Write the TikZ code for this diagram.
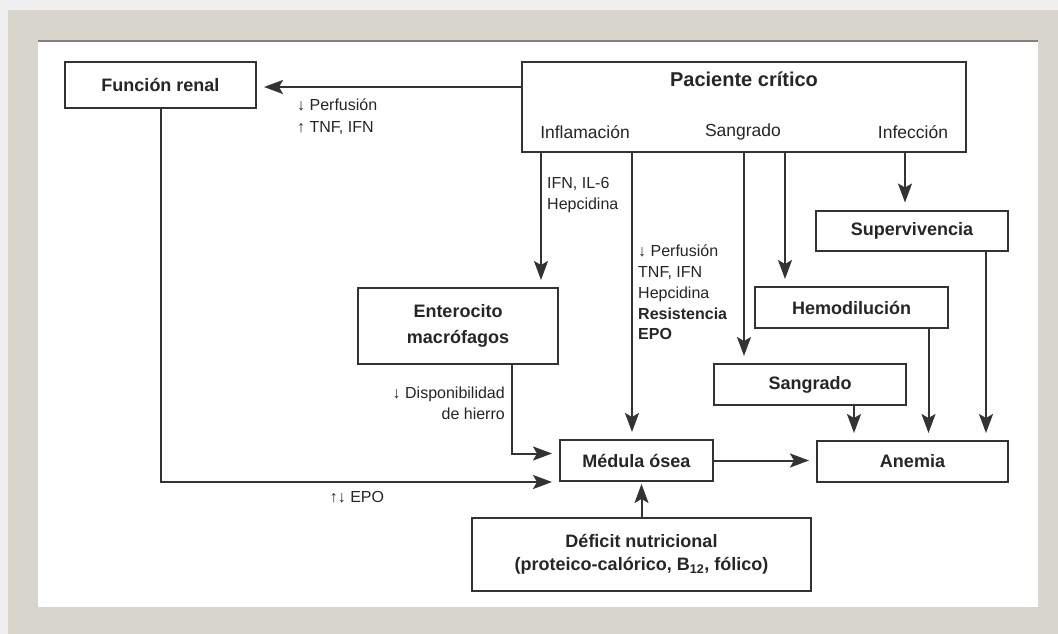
\documentclass[tikz,border=0pt]{standalone}
\usepackage{fontspec}
\setmainfont{Liberation Sans}
\usetikzlibrary{arrows.meta}
\definecolor{marco}{HTML}{D8D5CD}
\definecolor{linea}{HTML}{333333}
\definecolor{texto}{HTML}{262626}

\begin{document}
\begin{tikzpicture}[x=1pt,y=-1pt]
\tikzstyle{caja} = [draw=linea, line width=2pt, inner sep=0, align=center, text=texto, font=\bfseries\fontsize{18}{25}\selectfont]
\tikzstyle{etiq} = [inner sep=0, text=texto, font=\fontsize{16}{21}\selectfont]
\tikzstyle{rotulo} = [inner sep=0, text=texto, font=\fontsize{17.5}{21}\selectfont]
\tikzstyle{flecha} = [draw=linea, line width=2pt, -{Stealth[length=19pt,width=14pt,inset=4pt]}, shorten >=7pt]

% Marco
\useasboundingbox (0,0) rectangle (1058,634);
\fill[gray!12] (0,0) rectangle (1058,634);
\fill[marco] (8,10) rectangle (1058,634);
\fill[white] (38,40) rectangle (1038,607);
\draw[gray, line width=1.5pt] (38,41) -- (1038,41);

% Cajas
\node[caja, minimum width=191pt, minimum height=46pt] (renal) at (160.5,85) {Función renal};
\node[caja, minimum width=444pt, minimum height=90pt] (paciente) at (744,107) {};
\node[etiq, font=\bfseries\fontsize{20}{24}\selectfont] (titulo) at (744,79) {Paciente crítico};
\node[rotulo] (inflam) at (585,132) {Inflamación};
\node[rotulo] (sangr) at (743,132) {Sangrado};
\node[rotulo] (infec) at (913,132) {Infección};

\node[caja, minimum width=192pt, minimum height=40pt] (superv) at (912,230.5) {Supervivencia};
\node[caja, minimum width=193pt, minimum height=41pt] (hemo) at (851.5,307.5) {Hemodilución};
\node[caja, minimum width=192pt, minimum height=41pt] (sangrado) at (810,384.5) {Sangrado};
\node[caja, minimum width=200pt, minimum height=76pt, font=\bfseries\fontsize{18}{26}\selectfont] (entero) at (458,326) {Enterocito\\macrófagos};
\node[caja, minimum width=153pt, minimum height=41pt] (medula) at (636.5,460.5) {Médula ósea};
\node[caja, minimum width=191pt, minimum height=41pt] (anemia) at (912.5,461.5) {Anemia};
\node[caja, minimum width=339pt, minimum height=73pt, font=\bfseries\fontsize{18}{23}\selectfont] (deficit) at (641.5,554.5) {Déficit nutricional\\(proteico-calórico, B\textsubscript{12}, fólico)};

% Flechas desde paciente
\coordinate (a1) at ([xshift=20pt]paciente.south west);
\coordinate (a2) at ([xshift=111pt]paciente.south west);
\coordinate (a3) at ([xshift=223pt]paciente.south west);
\coordinate (a4) at ([xshift=264pt]paciente.south west);
\coordinate (a5) at ([xshift=384pt]paciente.south west);
\draw[flecha] (paciente.west |- 0,87) -- (renal.east |- 0,87);
\draw[flecha] (a1) -- (a1 |- entero.north);
\draw[flecha] (a2) -- (a2 |- medula.north);
\draw[flecha] (a3) -- (a3 |- sangrado.north);
\draw[flecha] (a4) -- (a4 |- hemo.north);
\draw[flecha] (a5) -- (a5 |- superv.north);

% Flechas hacia medula y anemia
\draw[flecha] ([xshift=54pt]entero.south) |- ([yshift=7pt]medula.west);
\draw[flecha] (renal.south) |- (medula.south west);
\draw[flecha] (medula.east) -- (medula.east -| anemia.west);
\draw[flecha, shorten >=2pt] (deficit.north) -- (deficit.north |- medula.south);
\draw[flecha] ([xshift=44pt]sangrado.south) coordinate (b1) -- (b1 |- anemia.north);
\draw[flecha] ([xshift=77pt]hemo.south) coordinate (b2) -- (b2 |- anemia.north);
\draw[flecha] ([xshift=74pt]superv.south) coordinate (b3) -- (b3 |- anemia.north);

% Etiquetas
\node[etiq, anchor=north west, align=left, font=\fontsize{16}{22}\selectfont] (perf1) at (297,99) {↓ Perfusión\\↑ TNF, IFN};
\node[etiq, anchor=north west, align=left] (citoq) at (547,177) {IFN, IL-6\\Hepcidina};
\node[etiq, anchor=north west, align=left, font=\fontsize{16}{20.7}\selectfont] (perf2) at (638,245) {↓ Perfusión\\TNF, IFN\\Hepcidina\\\textbf{Resistencia}\\\textbf{EPO}};
\node[etiq, anchor=north east, align=right] (hierro) at (505,387) {↓ Disponibilidad\\de hierro};
\node[etiq] (epo) at (357,497) {↑↓ EPO};

\end{tikzpicture}
\end{document}
